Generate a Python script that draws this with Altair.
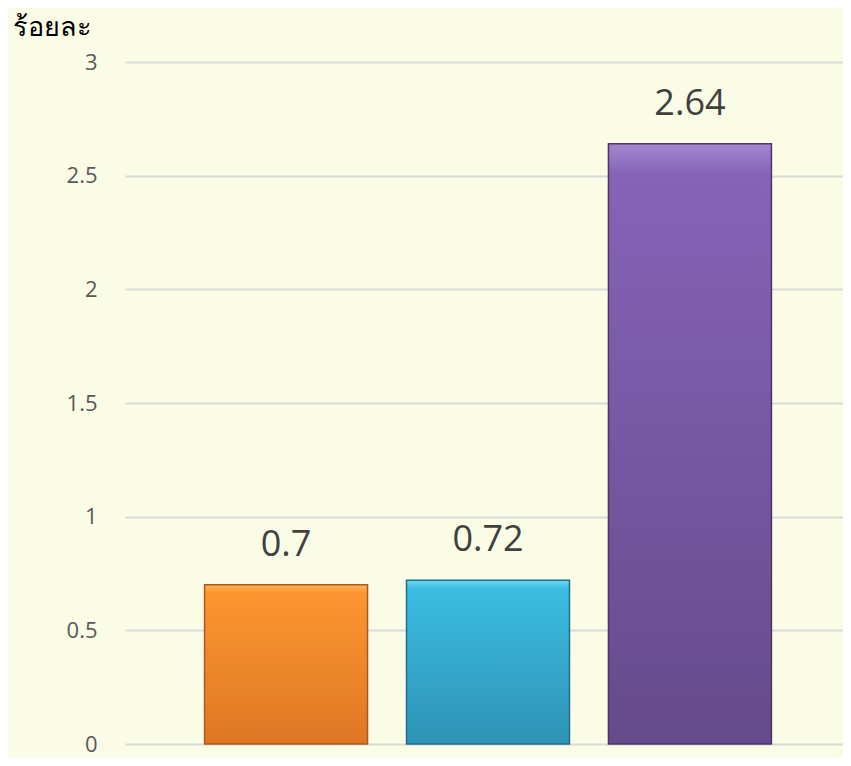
import altair as alt
import pandas as pd

categories = ["A", "B", "C"]
values = [0.7, 0.72, 2.64]
labels = ["0.7", "0.72", "2.64"]

df = pd.DataFrame({"cat": categories, "value": values, "label": labels})

gradients = {
    "A": ("#ffb256", "#fc962f", "#df7625", "#a85a1c"),
    "B": ("#6fd9f4", "#3bbde2", "#2f93b5", "#1f6f8a"),
    "C": ("#a487d0", "#8763b6", "#654a8c", "#4b3569"),
}

xenc = alt.X("cat:N", sort=categories, axis=None,
             scale=alt.Scale(domain=categories, range=[0, 726],
                             paddingInner=0.193, paddingOuter=0.394))
yscale = alt.Scale(domain=[0, 3], nice=False)

base = alt.Chart(df)

axis_layer = base.mark_bar(opacity=0).encode(
    x=xenc,
    y=alt.Y("value:Q", scale=yscale,
            axis=alt.Axis(values=[0, 0.5, 1, 1.5, 2, 2.5, 3], title="ร้อยละ",
                          titleAngle=0, titleAlign="left", titleBaseline="alphabetic",
                          titleX=-113, titleY=-27, titleFontSize=27, titleFontWeight=500,
                          titleColor="#000000", titleFont="Noto Sans",
                          labelFontSize=22, labelColor="#595959", labelFont="Open Sans",
                          labelPadding=28, ticks=False, domain=False,
                          grid=True, gridColor="#d9d9d9", gridWidth=2,
                          labelExpr="datum.value")),
)

bars = []
for c in categories:
    top, mid, low, stroke = gradients[c]
    grad = alt.Gradient(
        gradient="linear", x1=0, y1=0, x2=0, y2=1,
        stops=[alt.GradientStop(offset=0, color=top),
               alt.GradientStop(offset=0.05, color=mid),
               alt.GradientStop(offset=1, color=low)])
    bars.append(
        base.transform_filter(alt.datum.cat == c).mark_bar(
            color=grad, stroke=stroke, strokeWidth=1.5
        ).encode(x=xenc, y=alt.Y("value:Q", scale=yscale))
    )

text = base.mark_text(fontSize=36, color="#404040", font="Open Sans",
                      baseline="alphabetic", dy=-29).encode(
    x=xenc, y=alt.Y("value:Q", scale=yscale), text="label:N")

chart = alt.layer(axis_layer, *bars, text).properties(
    width=718, height=682,
    background="#fbfce6",
    padding={"left": 117, "top": 54, "right": 0, "bottom": 14},
    autosize=alt.AutoSizeParams(type="none"),
).configure_view(stroke=None)

chart.save("out.html", embed_options={"renderer": "svg", "actions": False})
